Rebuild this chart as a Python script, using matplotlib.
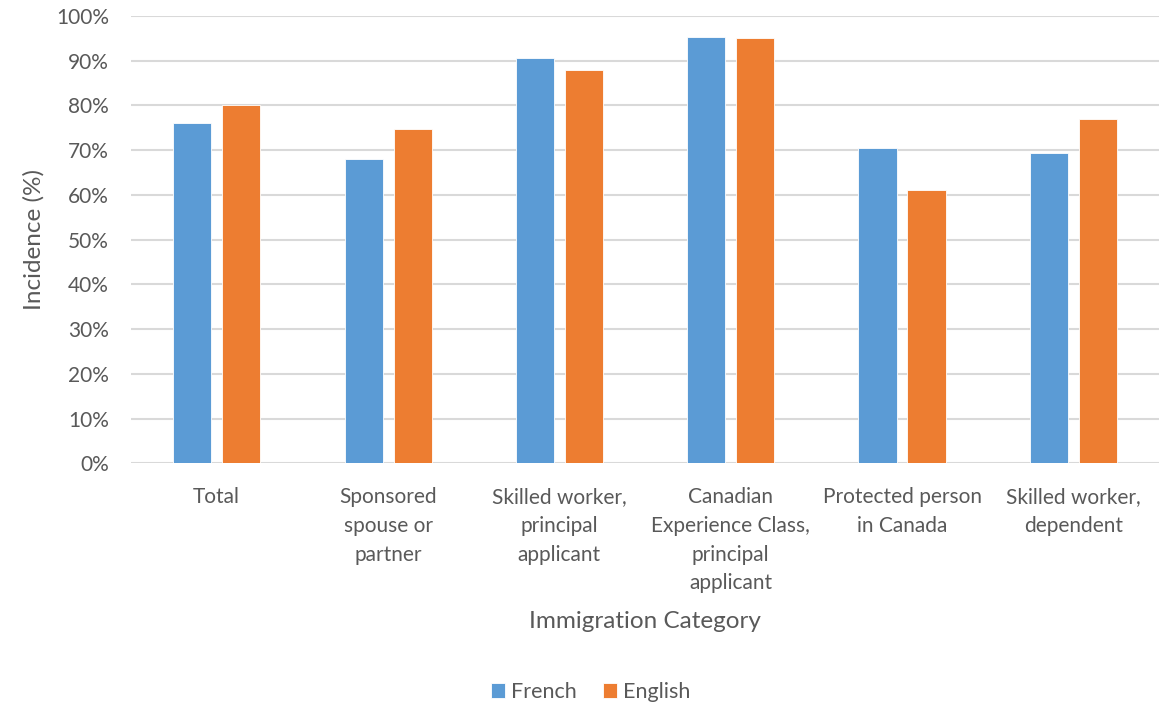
import matplotlib.pyplot as plt
import numpy as np

categories = ["Total", "Sponsored\nspouse or\npartner", "Skilled worker,\nprincipal\napplicant",
              "Canadian\nExperience Class,\nprincipal\napplicant", "Protected person\nin Canada",
              "Skilled worker,\ndependent"]
french = [76.0, 68.0, 90.6, 95.2, 70.5, 69.4]
english = [80.1, 74.7, 87.9, 95.0, 61.2, 77.0]

plt.rcParams['font.family'] = ['Lato', 'DejaVu Sans']
txt = "#595959"

fig = plt.figure(figsize=(11.7, 7.05), dpi=100)
ax = fig.add_axes([0.112, 0.3426, 0.8786, 0.6347])

x = np.arange(len(categories))
w = 0.222
off = 0.143
ax.bar(x - off, french, w, color="#5B9BD5", edgecolor="white", linewidth=0.6, label="French", zorder=3)
ax.bar(x + off, english, w, color="#ED7D31", edgecolor="white", linewidth=0.6, label="English", zorder=3)

ax.set_xlim(-0.5, len(categories) - 0.5)
ax.set_ylim(0, 100)
ax.set_yticks(range(0, 101, 10))
ax.set_yticklabels([f"{v}%" for v in range(0, 101, 10)], fontsize=15, color=txt)
ax.set_xticks(x)
ax.set_xticklabels(categories, fontsize=15, color=txt, linespacing=1.55, va="top")
ax.tick_params(axis="y", length=0, pad=16)
ax.tick_params(axis="x", length=0, pad=17)
ax.grid(axis="y", color="#D9D9D9", linewidth=1.5, zorder=0)
for s in ax.spines.values():
    s.set_visible(False)

ax.set_ylabel("Incidence (%)", fontsize=17.5, color=txt, labelpad=8)
fig.text(0.551, 1 - 622 / 705, "Immigration Category", fontsize=17.5, color=txt, ha="center", va="center")

fig.legend(loc="center", bbox_to_anchor=(0.505, 1 - 692 / 705), ncol=2, frameon=False,
           fontsize=15.5, labelcolor=txt, handlelength=0.65, handleheight=0.65,
           handletextpad=0.3, columnspacing=1.2)

fig.savefig("out.png", dpi=100)
